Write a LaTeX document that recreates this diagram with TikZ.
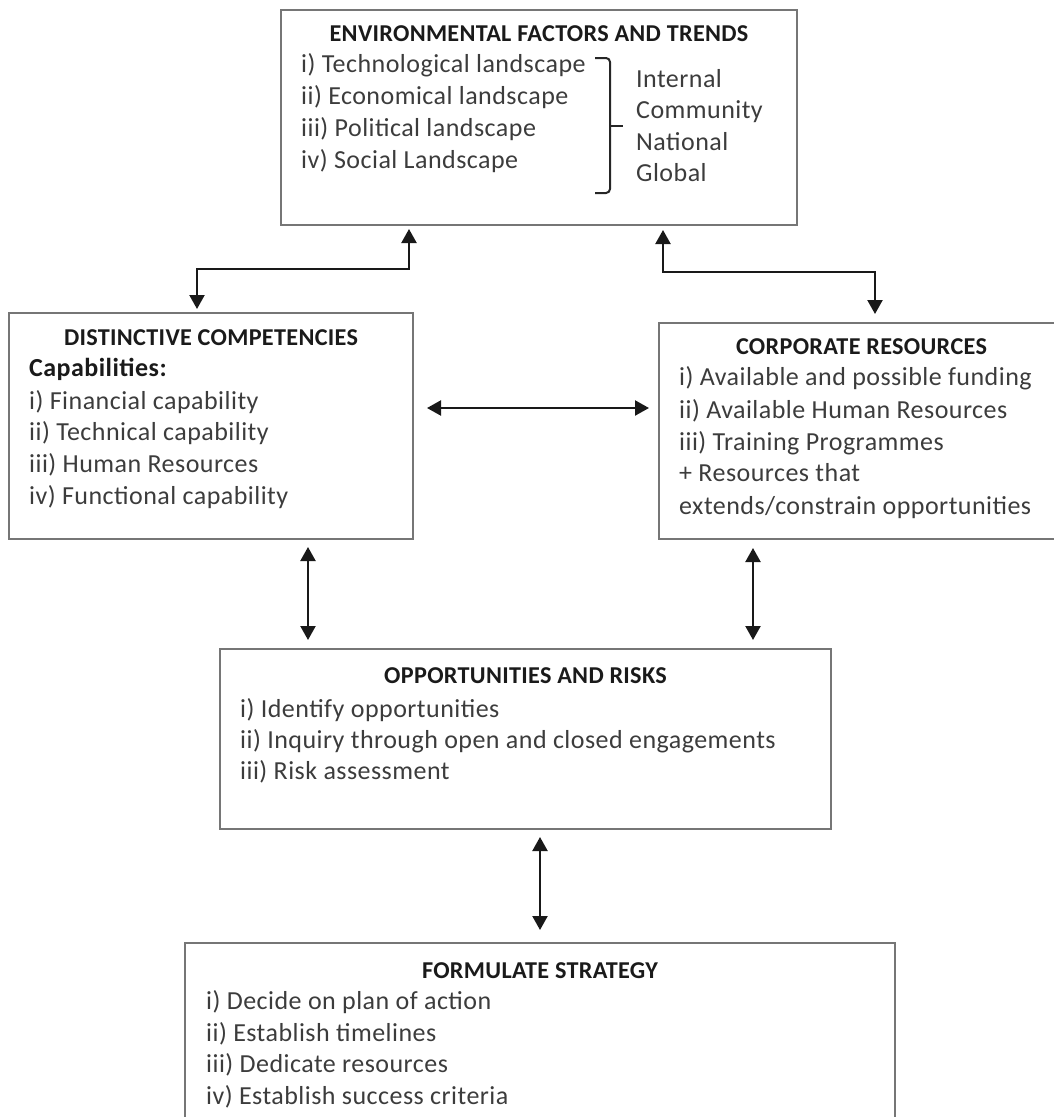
\documentclass[tikz,border=0pt]{standalone}
\usepackage{fontspec}
\setmainfont{Carlito}
\newfontfamily\bodyfont[LetterSpace=1.8]{Carlito}
\newfontfamily\headfont[LetterSpace=1.3]{Carlito}
\usetikzlibrary{arrows.meta,calc}
\definecolor{boxgray}{HTML}{767676}
\definecolor{bodytext}{HTML}{3C3C3C}
\definecolor{headtext}{HTML}{1A1A1A}
\begin{document}
\begin{tikzpicture}[x=1pt,y=-1pt,
  box/.style={draw=boxgray, line width=2pt, rectangle, inner sep=0pt, outer sep=0pt},
  head/.style={font=\headfont\fontsize{24.2}{29}\selectfont\bfseries, text=headtext, anchor=base, inner sep=0pt},
  item/.style={font=\bodyfont\fontsize{26}{31}\selectfont, text=bodytext, anchor=base west, inner sep=0pt},
  sub/.style={font=\bodyfont\fontsize{26}{31}\selectfont\bfseries, text=headtext, anchor=base west, inner sep=0pt},
  arr/.style={line width=2.2pt, draw=black!90, {Triangle[length=14pt,width=15pt]}-{Triangle[length=14pt,width=15pt]}},
  brace/.style={line width=2pt, draw=black!85, rounded corners=4pt}
]
\clip (0,0) rectangle (1054,1117);
\useasboundingbox (0,0) rectangle (1054,1117);

% boxes
\node[box, minimum width=516pt, minimum height=215pt] (env) at (539,117.5) {};
\node[box, minimum width=404pt, minimum height=226pt] (dist) at (211,426) {};
\node[box, minimum width=405pt, minimum height=216pt] (corp) at (861.5,431) {};
\node[box, minimum width=611pt, minimum height=180pt] (opp) at (525.5,739) {};
\node[box, minimum width=710pt, minimum height=197pt] (form) at (540,1041.5) {};

% environmental factors
\node[head] (envt) at (539,41) {ENVIRONMENTAL FACTORS AND TRENDS};
\node[item] (env1) at (301,72.7) {i) Technological landscape};
\node[item] (env2) at (301,104.5) {ii) Economical landscape};
\node[item] (env3) at (301,136.5) {iii) Political landscape};
\node[item] (env4) at (301,168.5) {iv) Social Landscape};
\node[item] (lv1) at (636,87.3) {Internal};
\node[item] (lv2) at (636,118.5) {Community};
\node[item] (lv3) at (636,150) {National};
\node[item] (lv4) at (636,181.7) {Global};
\draw[brace] (595,58) -- (610,58) -- (610,193) -- (595,193);
\draw[brace] (610,125.5) -- (623,125.5);

% distinctive competencies
\node[head] (distt) at (211,345) {DISTINCTIVE COMPETENCIES};
\node[sub] (cap) at (29,376) {Capabilities:};
\node[item] (d1) at (29,409.3) {i) Financial capability};
\node[item] (d2) at (29,440.7) {ii) Technical capability};
\node[item] (d3) at (29,472.3) {iii) Human Resources};
\node[item] (d4) at (29,504) {iv) Functional capability};

% corporate resources
\node[head] (corpt) at (861.5,354) {CORPORATE RESOURCES};
\node[item] (c1) at (679,385.7) {i) Available and possible funding};
\node[item] (c2) at (679,418.3) {ii) Available Human Resources};
\node[item] (c3) at (679,450.7) {iii) Training Programmes};
\node[item] (c4) at (679,481.7) {+ Resources that};
\node[item] (c5) at (679,514.3) {extends/constrain opportunities};

% opportunities and risks
\node[head] (oppt) at (525.5,683.3) {OPPORTUNITIES AND RISKS};
\node[item] (o1) at (240,717.3) {i) Identify opportunities};
\node[item] (o2) at (240,748.3) {ii) Inquiry through open and closed engagements};
\node[item] (o3) at (240,779.3) {iii) Risk assessment};

% formulate strategy
\node[head] (formt) at (540,978.3) {FORMULATE STRATEGY};
\node[item] (f1) at (206,1009.3) {i) Decide on plan of action};
\node[item] (f2) at (206,1041) {ii) Establish timelines};
\node[item] (f3) at (206,1072.7) {iii) Dedicate resources};
\node[item] (f4) at (206,1104.3) {iv) Establish success criteria};

% connectors
\draw[arr, shorten <=4pt, shorten >=4pt] ([xshift=128pt]env.south west) -- ++(0,44) -| ([xshift=188pt]dist.north west);
\draw[arr, shorten <=5pt, shorten >=9pt] ([xshift=382pt]env.south west) -- ++(0,47) -| ([xshift=216pt]corp.north west);
\draw[arr, shorten <=14pt, shorten >=10pt] ([yshift=-95pt]dist.north east) -- ([yshift=-85pt]corp.north west);
\draw[arr, shorten <=8pt, shorten >=9pt] ([xshift=-105pt]dist.south east) -- ([xshift=88pt]opp.north west);
\draw[arr, shorten <=9pt, shorten >=9pt] ([xshift=94pt]corp.south west) -- ([xshift=-78pt]opp.north east);
\draw[arr, shorten <=8pt, shorten >=13pt] ([xshift=14.5pt]opp.south) -- (form.north);
\end{tikzpicture}
\end{document}
